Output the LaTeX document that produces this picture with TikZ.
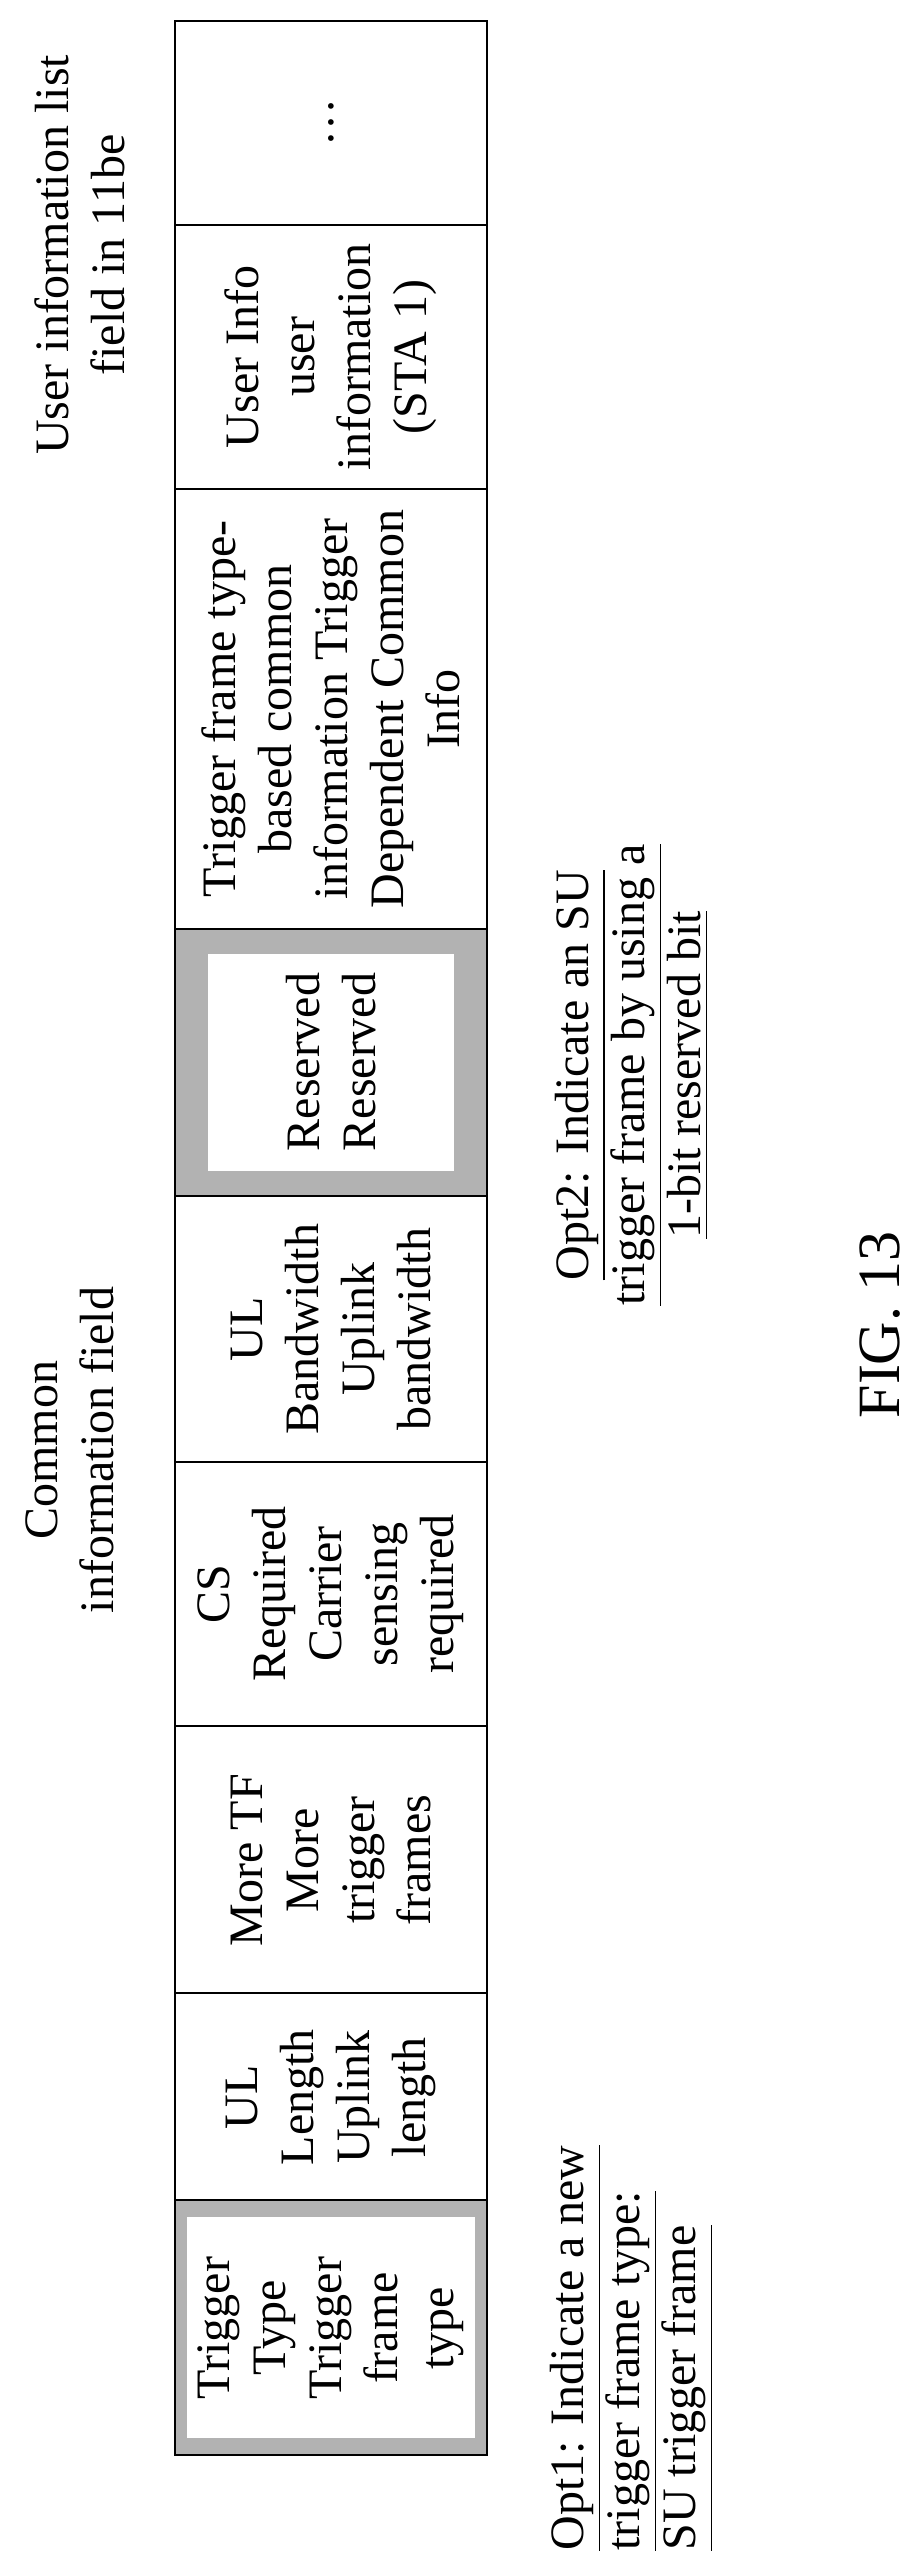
\documentclass[tikz,border=0pt]{standalone}
\usepackage{fontspec}
\setmainfont{Liberation Serif}
\begin{document}
\begin{tikzpicture}[x=0.25pt, y=-0.25pt,
  cell/.style={draw, line width=0.5pt},
  celltext/.style={rotate=90, align=center, font=\fontsize{12}{14}\selectfont, inner sep=0pt},
  gray band/.style={fill=black!30, draw, line width=0.5pt}]
  \useasboundingbox (0,0) rectangle (920,2566);

  % 分组标题
  \node[celltext] (userlist) at (80,255) {User information list\\field in 11be};
  \node[celltext] (common) at (70,1450) {Common\\information field};

  % 带灰色边框的字段
  \draw[gray band] (175,2200) rectangle (487,2455);
  \fill[white] (187,2217) rectangle (475,2438);
  \draw[gray band] (175,929) rectangle (487,1196);
  \fill[white] (208,954) rectangle (454,1171);

  % 字段格子
  \draw[cell] (175,21) rectangle (487,2455);
  \foreach \yb in {225,489,929,1196,1462,1726,1993,2200}
    \draw[cell] (175,\yb) -- (487,\yb);

  % 字段内容
  \node[celltext] (more) at (331,123) {\dots};
  \node[celltext] (userinfo) at (331,357) {User Info\\user\\information\\(STA 1)};
  \node[celltext] (depinfo) at (331,709) {Trigger frame type-\\based common\\information Trigger\\Dependent Common\\Info};
  \node[celltext] (reserved) at (331,1062) {Reserved\\Reserved};
  \node[celltext] (ulbw) at (331,1329) {UL\\Bandwidth\\Uplink\\bandwidth};
  \node[celltext] (csreq) at (331,1594) {CS\\Required\\Carrier\\sensing\\required};
  \node[celltext] (moretf) at (331,1860) {More TF\\More\\trigger\\frames};
  \node[celltext] (ullen) at (331,2097) {UL\\Length\\Uplink\\length};
  \node[celltext] (trigtype) at (331,2328) {Trigger\\Type\\Trigger\\frame\\type};

  % 两种方案说明
  \node[celltext, align=left] (opt1) at (632,2348)
    {\underline{Opt1: Indicate a new}\\\underline{trigger frame type:}\\\underline{SU trigger frame}};
  \node[celltext] (opt2) at (632,1075)
    {\underline{Opt2: Indicate an SU}\\\underline{trigger frame by using a}\\\underline{1-bit reserved bit}};

  \node[rotate=90, font=\fontsize{15}{18}\selectfont] (fig) at (880,1325) {FIG. 13};
\end{tikzpicture}
\end{document}
